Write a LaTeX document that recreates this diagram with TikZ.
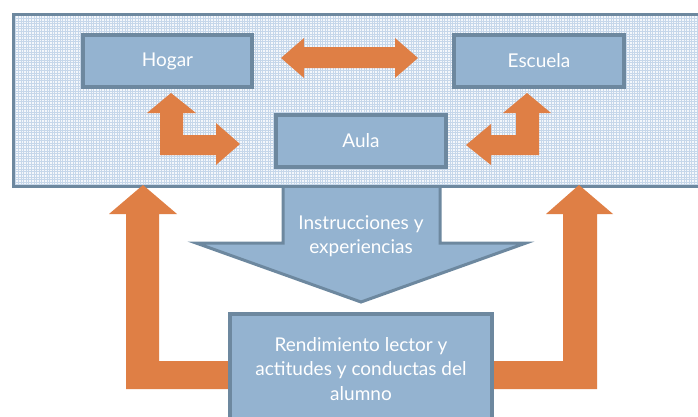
\documentclass[tikz,border=0pt]{standalone}
\usepackage{fontspec}
\setmainfont{Lato}
\definecolor{boxfill}{HTML}{94B3D0}
\definecolor{boxline}{HTML}{6D889F}
\definecolor{orng}{HTML}{DF7F45}
\definecolor{gridc}{HTML}{C6D7EA}
\definecolor{bgc}{HTML}{F4F7FB}
\tikzset{
  box/.style={draw=boxline, line width=3.5pt, fill=boxfill, text=white,
    font=\fontsize{19}{24.5}\selectfont, inner sep=0pt, align=center},
  oarrow/.style={fill=orng, draw=none},
  lbl/.style={text=white, font=\fontsize{19}{23.5}\selectfont, align=center, inner sep=0pt}
}
\begin{document}
\begin{tikzpicture}[x=1pt,y=-1pt]
\clip (0,0) rectangle (698,416);
\useasboundingbox (0,0) rectangle (698,416);
\fill[white] (0,0) rectangle (698,416);
% down arrow
\draw[draw=boxline, line width=3pt, fill=boxfill, line join=miter]
  (283,175) -- (440,175) -- (440,243) -- (526,243) -- (361,302) -- (196,243) -- (283,243) -- cycle;
\node[lbl] (instr) at (361,236) {Instrucciones y\\experiencias};
% outer rect
\fill[bgc] (12,13) rectangle (705,188);
\draw[gridc, line width=0.45pt, step=2.6pt] (12,13) grid (705,188);
\draw[boxline, line width=3pt] (13.5,14.5) rectangle (705,186.5);
% boxes
\node[box, minimum width=169pt, minimum height=52pt] (hogar) at (167.5,61) {Hogar};
\node[box, minimum width=170pt, minimum height=52pt] (escuela) at (539,61) {Escuela};
\node[box, minimum width=170pt, minimum height=52pt] (aula) at (361,141) {Aula};
% double arrow
\fill[oarrow] (281,58) -- (304,38) -- (304,47) -- (395,47) -- (395,38) -- (418,58)
  -- (395,78) -- (395,68) -- (304,68) -- (304,78) -- cycle;
% bent arrows
\fill[oarrow] (171,93) -- (196,113) -- (183,113) -- (183,135) -- (216,135) -- (216,123)
  -- (240,144) -- (216,165) -- (216,155) -- (160,155) -- (160,113) -- (147,113) -- cycle;
\fill[oarrow] (527,93) -- (551,113) -- (539,113) -- (539,155) -- (491,155) -- (491,165)
  -- (466,145) -- (491,124) -- (491,135) -- (516,135) -- (516,113) -- (503,113) -- cycle;
% big arrows
\fill[oarrow] (143,185) -- (177,214) -- (159,214) -- (159,361) -- (240,361) -- (240,389)
  -- (126,389) -- (126,214) -- (109,214) -- cycle;
\fill[oarrow] (579,185) -- (613,214) -- (597,214) -- (597,389) -- (480,389) -- (480,361)
  -- (563,361) -- (563,214) -- (546,214) -- cycle;
% bottom box
\node[box, minimum width=262pt, minimum height=110pt] (rend) at (361,369)
  {Rendimiento lector y\\actitudes y conductas del\\alumno};
\end{tikzpicture}
\end{document}
